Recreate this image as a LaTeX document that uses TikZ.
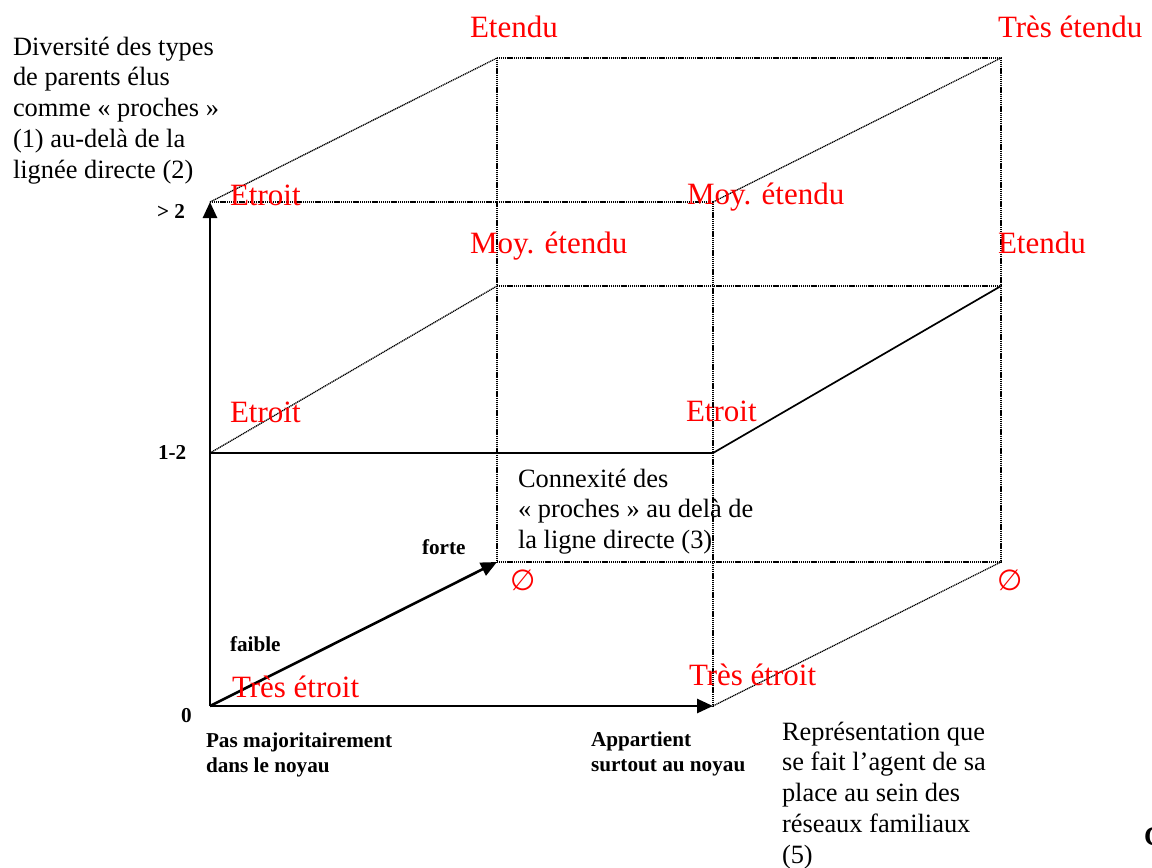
\documentclass[tikz,border=0pt]{standalone}
\usepackage{fontspec}
\setmainfont{Liberation Serif}
\newfontfamily\symfont{DejaVu Sans}
\usetikzlibrary{arrows.meta}
\newcommand\mlines[1]{\begin{tabular}[t]{@{}l@{}}#1\end{tabular}}
\begin{document}
\begin{tikzpicture}[x=1pt,y=-1pt,
  lbl/.style={anchor=base west, inner sep=0pt, outer sep=0pt},
  redlbl/.style={lbl, text=red, font=\fontsize{31}{36}\selectfont},
  txt/.style={lbl, font=\fontsize{26.4}{30.8}\selectfont},
  bld/.style={lbl, font=\fontsize{21.2}{25}\selectfont\bfseries},
  empty/.style={inner sep=0pt, text=red, font=\fontsize{29}{32}\selectfont\symfont},
  axis/.style={line width=2.6pt, -{Triangle[length=16pt,width=14pt]}},
  solidedge/.style={line width=1.7pt},
  dotedge/.style={line width=1.3pt, dash pattern=on 1.2pt off 0.7pt},
]
\useasboundingbox (0,0) rectangle (1152,868);

% cube corners
\coordinate (F00) at (210,706);
\coordinate (F10) at (713,706);
\coordinate (F01) at (210,453);
\coordinate (F11) at (713,453);
\coordinate (F02) at (210,202);
\coordinate (F12) at (713,202);
\coordinate (B00) at (497,562);
\coordinate (B10) at (1001,562);
\coordinate (B01) at (497,286);
\coordinate (B11) at (1001,286);
\coordinate (B02) at (497,58);
\coordinate (B12) at (1001,58);

% dotted edges
\draw[dotedge] (F02) -- (F12);
\draw[dotedge] (F12) -- (F10);
\draw[dotedge] (B02) -- (B00);
\draw[dotedge] (B12) -- (B10);
\draw[dotedge] (B02) -- (B12);
\draw[dotedge] (B01) -- (B11);
\draw[dotedge] (B00) -- (B10);
\draw[dotedge] (F02) -- (B02);
\draw[dotedge] (F12) -- (B12);
\draw[dotedge] (F01) -- (B01);
\draw[dotedge] (F10) -- (B10);

% solid edges
\draw[solidedge] (F01) -- (F11);
\draw[solidedge] (F11) -- (B11);

% axes
\draw[axis] (F00) -- (F02);
\draw[axis] (F00) -- (F10);
\draw[axis] (F00) -- (B00);

% red labels
\node[redlbl] (l1) at (470,37) {Etendu};
\node[redlbl] (l2) at (998,37) {Très étendu};
\node[redlbl] (l3) at (230,205) {Etroit};
\node[redlbl] (l4) at (687,204) {Moy. étendu};
\node[redlbl] (l5) at (470,253) {Moy. étendu};
\node[redlbl] (l6) at (998,253) {Etendu};
\node[redlbl] (l7) at (230,422) {Etroit};
\node[redlbl] (l8) at (686,421) {Etroit};
\node[redlbl] (l9) at (232,697) {Très étroit};
\node[redlbl] (l10) at (689,685) {Très étroit};
\node[empty] (e1) at (523.5,580) {∅};
\node[empty] (e2) at (1010.5,580) {∅};

% black texts
\node[txt] (ty) at (13,55) {\mlines{Diversité des types\\de parents élus\\comme « proches »\\(1) au-delà de la\\lignée directe (2)}};
\node[txt] (tz) at (518,487) {\mlines{Connexité des\\« proches » au delà de\\la ligne directe (3)}};
\node[txt] (tx) at (782,740) {\mlines{Représentation que\\se fait l’agent de sa\\place au sein des\\réseaux familiaux\\(5)}};
\node[lbl, font=\fontsize{27}{30}\selectfont\bfseries] (tc) at (1144,845) {C};

% bold ticks
\node[bld] (y2) at (157,218) {> 2};
\node[bld] (y1) at (158,459) {1-2};
\node[bld] (y0) at (181,722) {0};
\node[bld] (zf) at (422,554) {forte};
\node[bld] (zw) at (230,651) {faible};
\node[bld] (x0) at (206,747) {\mlines{Pas majoritairement\\dans le noyau}};
\node[bld] (x1) at (591,746) {\mlines{Appartient\\surtout au noyau}};
\end{tikzpicture}
\end{document}
